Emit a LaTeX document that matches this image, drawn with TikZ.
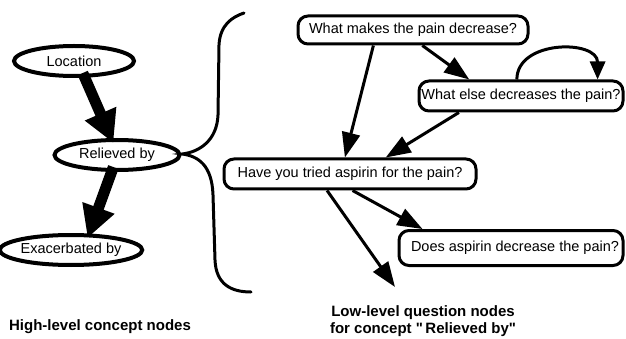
\documentclass[tikz,border=0pt]{standalone}
\usepackage{fontspec}
\setmainfont{Liberation Sans}
\usetikzlibrary{arrows.meta,shapes.geometric,calc}
\tikzset{
  concept/.style={ellipse,draw,line width=4pt,minimum width=120pt,minimum height=30pt,inner sep=0pt,font=\fontsize{14.5}{17}\selectfont},
  question/.style={rectangle,rounded corners=10pt,draw,line width=3pt,inner sep=0pt,font=\fontsize{14.5}{17}\selectfont},
  bigarrow/.style={line width=11pt,-{Triangle[length=32pt,width=32pt]}},
  smallarrow/.style={line width=3pt,-{Triangle[length=25pt,width=18pt]}},
  looparrow/.style={line width=3pt,-{Triangle[length=18pt,width=15pt]}},
  heading/.style={font=\bfseries\fontsize{15}{17}\selectfont,align=center,inner sep=0pt},
  brace/.style={line width=3pt,line cap=round}
}
\begin{document}
\begin{tikzpicture}[x=1pt,y=-1pt]
\useasboundingbox[fill=white] (0,0) rectangle (626,339);
% high-level concept nodes
\node[concept] (loc) at (74,61) {Location};
\node[concept,minimum width=125pt] (rel) at (117,155) {Relieved by};
\node[concept,minimum width=118pt] (exa) at (71,250) {Exacerbated by};
\draw[bigarrow] ($(loc.south west)!0.6!(loc.south east)$) -- ($(rel.north west)!0.46!(rel.north east)$);
\draw[bigarrow] ($(rel.south west)!0.46!(rel.south east)$) -- ($(exa.north west)!0.66!(exa.north east)$);
\node[heading] (hl) at (100,327) {High-level concept nodes};
% brace
\draw[brace] (244,13) .. controls (232,17) and (220,25) .. (219,45) -- (218,115)
  .. controls (217,140) and (200,152) .. (182,154)
  .. controls (198,156) and (212,165) .. (213,195) -- (215,260)
  .. controls (216,285) and (232,292) .. (251,292);
% low-level question nodes
\node[question,minimum width=230pt,minimum height=28pt] (wm) at (413,30) {What makes the pain decrease?};
\node[question,minimum width=204pt,minimum height=30pt] (we) at (521,96) {What else decreases the pain?};
\node[question,minimum width=252pt,minimum height=30pt] (ho) at (350,174) {Have you tried aspirin for the pain?};
\node[question,minimum width=224pt,minimum height=35pt] (da) at (511,248) {\hspace*{8pt}Does aspirin decrease the pain?};
\coordinate (free) at (395,287);
\draw[smallarrow] ($(wm.south west)!0.33!(wm.south east)$) -- ($(ho.north west)!0.48!(ho.north east)$);
\draw[smallarrow] ($(wm.south west)!0.54!(wm.south east)$) -- ($(we.north west)!0.25!(we.north east)$);
\draw[looparrow] ($(we.north west)!0.48!(we.north east)$) .. controls +(0,-40) and +(0,-40) .. ($(we.north west)!0.87!(we.north east)$);
\draw[smallarrow] ($(we.south west)!0.2!(we.south east)$) -- ($(ho.north west)!0.64!(ho.north east)$);
\draw[smallarrow] ($(ho.south west)!0.51!(ho.south east)$) -- ($(da.north west)!0.11!(da.north east)$);
\draw[smallarrow] ($(ho.south west)!0.41!(ho.south east)$) -- (free);
\node[heading] (ll) at (423,321) {Low-level question nodes\\for concept \textquotedbl\,Relieved by\textquotedbl};
\end{tikzpicture}
\end{document}
